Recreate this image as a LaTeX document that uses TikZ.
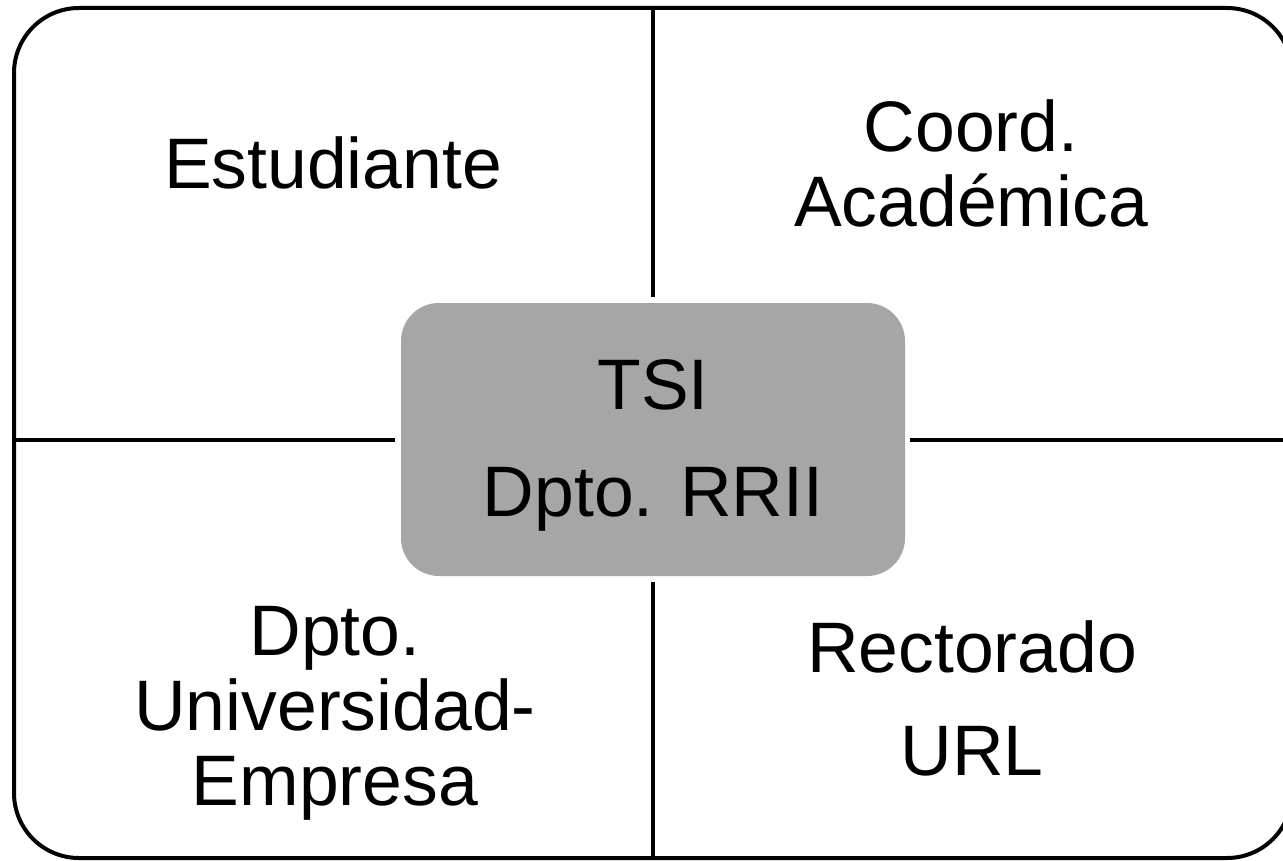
\documentclass[tikz,border=0pt]{standalone}
\usepackage{fontspec}
\setmainfont{Liberation Sans}
\definecolor{boxgray}{RGB}{166,166,166}
\begin{document}
\begin{tikzpicture}[x=1pt,y=-1pt,
  frame/.style={draw=black,line width=4pt,rounded corners=65pt},
  divider/.style={draw=black,line width=4pt},
  hub/.style={fill=boxgray,draw=none,rounded corners=38pt,minimum width=504pt,minimum height=273pt,inner sep=0pt},
  lbl/.style={anchor=base,align=center,font=\fontsize{71.5}{75}\selectfont,inner sep=0pt}]
\useasboundingbox (0,0) rectangle (1283,861);
\clip (0,0) rectangle (1283,861);
\fill[white] (0,0) rectangle (1283,861);
\draw[frame] (14,8) rectangle (1292,858);
\node[hub] (hub) at (653,439.5) {};
\coordinate (ftop) at (653,8);
\coordinate (fbot) at (653,858);
\coordinate (fleft) at (14,439.5);
\coordinate (fright) at (1292,439.5);
\draw[divider] (ftop) -- ([yshift=6pt]hub.north);
\draw[divider] ([yshift=-6pt]hub.south) -- (fbot);
\draw[divider] (fleft) -- ([xshift=-6pt]hub.west);
\draw[divider] ([xshift=5pt]hub.east) -- (fright);
\node[lbl] (est) at (333,189) {Estudiante};
\node[lbl] (coord) at (971,227) {Coord.\\Académica};
\node[lbl] (tsi) at (653,516) {TSI\\[32pt]Dpto. RRII};
\node[lbl] (dpto) at (335,805) {Dpto.\\Universidad-\\Empresa};
\node[lbl] (rect) at (972,775) {Rectorado\\[28pt]URL};
\end{tikzpicture}
\end{document}
